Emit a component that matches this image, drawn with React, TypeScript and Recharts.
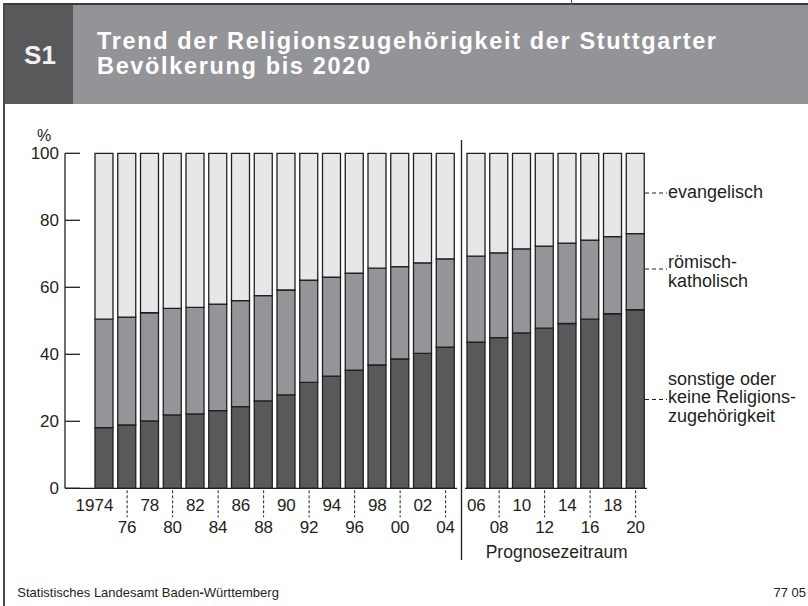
import { BarChart, Bar, XAxis, YAxis } from 'recharts'

const YEARS = [1974, 1976, 1978, 1980, 1982, 1984, 1986, 1988, 1990, 1992, 1994, 1996, 1998, 2000, 2002, 2004, 2006, 2008, 2010, 2012, 2014, 2016, 2018, 2020]
const TICK_LABELS = ['1974', '76', '78', '80', '82', '84', '86', '88', '90', '92', '94', '96', '98', '00', '02', '04', '06', '08', '10', '12', '14', '16', '18', '20']
const SONSTIGE = [18.1, 18.9, 20.1, 21.9, 22.2, 23.2, 24.4, 26.1, 27.9, 31.6, 33.5, 35.3, 36.8, 38.6, 40.3, 42.1, 43.6, 45.0, 46.4, 47.8, 49.2, 50.5, 52.1, 53.3]
const KATHOLISCH = [32.4, 32.2, 32.3, 31.8, 31.8, 31.8, 31.6, 31.4, 31.3, 30.5, 29.5, 28.9, 28.9, 27.6, 27.0, 26.4, 25.7, 25.3, 25.1, 24.5, 24.0, 23.6, 23.0, 22.7]
const EVANGELISCH = [49.5, 48.9, 47.6, 46.3, 46.0, 45.0, 44.0, 42.5, 40.8, 37.9, 37.0, 35.8, 34.3, 33.8, 32.7, 31.5, 30.7, 29.7, 28.5, 27.7, 26.8, 25.9, 24.9, 24.0]
const Y_TICKS = [0, 20, 40, 60, 80, 100]
const PROGNOSE_AB = 2006

const FONT = '"Liberation Sans", Arial, Helvetica, sans-serif'
const C_DARK = '#58595b'
const C_MID = '#939598'
const C_LIGHT = '#e6e7e8'
const C_LINE = '#231f20'

const rows = YEARS.map((year, i) => ({
  year,
  label: TICK_LABELS[i],
  sonstige: SONSTIGE[i],
  katholisch: KATHOLISCH[i],
  evangelisch: EVANGELISCH[i],
}))
const ist = rows.filter(r => r.year < PROGNOSE_AB)
const prognose = rows.filter(r => r.year >= PROGNOSE_AB)

const CHART_H = 420
const MARGIN = { top: 13.3, right: 0, left: 0, bottom: 11.7 }

function YearTick({ x, y, payload, index, alignFirst }: any) {
  const upper = index % 2 === 0
  const first = alignFirst && index === 0
  return (
    <g>
      {!upper && <line x1={x} x2={x} y1={y + 2} y2={y + 29} stroke={C_LINE} strokeWidth={1} strokeDasharray="3 2" />}
      <text
        x={first ? x + 9 : x}
        y={upper ? y + 22.5 : y + 45}
        textAnchor={first ? 'end' : 'middle'}
        fontFamily={FONT}
        fontSize={17}
        fill="#231f20"
      >
        {payload.value}
      </text>
    </g>
  )
}

function PctTick({ x, y, payload }: any) {
  return (
    <g>
      <line x1={x + 6} x2={x + 21} y1={y} y2={y} stroke={C_LINE} strokeWidth={1.3} />
      <text x={x} y={y + 6} textAnchor="end" fontFamily={FONT} fontSize={17} fill="#231f20">
        {payload.value}
      </text>
    </g>
  )
}

function Bars() {
  return [
    <Bar key="s" dataKey="sonstige" stackId="a" fill={C_DARK} stroke={C_LINE} strokeWidth={1.3} barSize={18} isAnimationActive={false} />,
    <Bar key="k" dataKey="katholisch" stackId="a" fill={C_MID} stroke={C_LINE} strokeWidth={1.3} barSize={18} isAnimationActive={false} />,
    <Bar key="e" dataKey="evangelisch" stackId="a" fill={C_LIGHT} stroke={C_LINE} strokeWidth={1.3} barSize={18} isAnimationActive={false} />,
  ]
}

export default function App() {
  return (
    <div style={{ position: 'absolute', left: 0, top: 0, width: 808, height: 606, background: '#fff', fontFamily: FONT, overflow: 'hidden' }}>
      {/* header */}
      <div style={{ position: 'absolute', left: 3, top: 3, width: 805, height: 2, background: '#3a3a3c' }} />
      <div style={{ position: 'absolute', left: 3, top: 3, width: 2, height: 603, background: '#4a4a4c' }} />
      <div style={{ position: 'absolute', left: 571, top: 0, width: 1, height: 5, background: '#555' }} />
      <div style={{ position: 'absolute', left: 5, top: 5, width: 68, height: 99, background: '#58595b' }} />
      <div style={{ position: 'absolute', left: 73, top: 5, width: 735, height: 99, background: '#939497' }} />

      <div style={{ position: 'absolute', left: 0, top: 140 }}>
        <BarChart width={457} height={CHART_H} data={ist} margin={MARGIN} barCategoryGap={0}>
          <YAxis
            width={65}
            domain={[0, 100]}
            ticks={Y_TICKS}
            interval={0}
            tickSize={0}
            tickMargin={6}
            tickLine={false}
            axisLine={{ stroke: C_LINE, strokeWidth: 1.3 }}
            tick={(p: any) => <PctTick {...p} />}
          />
          <XAxis
            dataKey="label"
            height={60}
            interval={0}
            tickSize={0}
            tickMargin={0}
            tickLine={false}
            padding={{ left: 28, right: 0 }}
            axisLine={{ stroke: C_LINE, strokeWidth: 1.3 }}
            tick={(p: any) => <YearTick {...p} alignFirst />}
          />
          {Bars()}
        </BarChart>
      </div>

      <div style={{ position: 'absolute', left: 464.8, top: 140 }}>
        <BarChart width={182} height={CHART_H} data={prognose} margin={MARGIN} barCategoryGap={0}>
          <YAxis hide width={0} domain={[0, 100]} />
          <XAxis
            dataKey="label"
            height={60}
            interval={0}
            tickSize={0}
            tickMargin={0}
            tickLine={false}
            axisLine={{ stroke: C_LINE, strokeWidth: 1.3 }}
            tick={(p: any) => <YearTick {...p} />}
          />
          {Bars()}
        </BarChart>
      </div>

      <svg width={808} height={606} style={{ position: 'absolute', left: 0, top: 0, pointerEvents: 'none' }}>
        <text x={40} y={64} textAnchor="middle" fontFamily={FONT} fontWeight="bold" fontSize={26} fill="#f2f2f2">S1</text>
        <text x={97} y={48.5} fontFamily={FONT} fontWeight="bold" fontSize={23.5} fill="#fff" textLength={619} lengthAdjust="spacing">
          Trend der Religionszugehörigkeit der Stuttgarter
        </text>
        <text x={97} y={74} fontFamily={FONT} fontWeight="bold" fontSize={23.5} fill="#fff" textLength={273} lengthAdjust="spacing">
          Bevölkerung bis 2020
        </text>

        <text x={44} y={141} textAnchor="middle" fontFamily={FONT} fontSize={16} fill="#231f20">%</text>

        <line x1={461.5} x2={461.5} y1={140} y2={560} stroke={C_LINE} strokeWidth={1.3} />
        <text x={556.7} y={558} textAnchor="middle" fontFamily={FONT} fontSize={17.5} fill="#231f20">Prognosezeitraum</text>

        <g fontFamily={FONT} fontSize={18} fill="#231f20">
          <line x1={645} x2={667} y1={193} y2={193} stroke={C_LINE} strokeWidth={1} strokeDasharray="4 3" />
          <text x={668} y={198.3}>evangelisch</text>
          <line x1={645} x2={667} y1={269} y2={269} stroke={C_LINE} strokeWidth={1} strokeDasharray="4 3" />
          <text x={668} y={268.3}>römisch-</text>
          <text x={668} y={286.7}>katholisch</text>
          <line x1={645} x2={667} y1={399.5} y2={399.5} stroke={C_LINE} strokeWidth={1} strokeDasharray="4 3" />
          <text x={668} y={385}>sonstige oder</text>
          <text x={668} y={403.3}>keine Religions-</text>
          <text x={668} y={421.7}>zugehörigkeit</text>
        </g>

        <text x={17.3} y={597.3} fontFamily={FONT} fontSize={13} fill="#231f20">
          Statistisches Landesamt Baden<tspan fontWeight="bold">-</tspan>Württemberg
        </text>
        <text x={806} y={597.3} textAnchor="end" fontFamily={FONT} fontSize={13} fill="#231f20">77 05</text>
      </svg>
    </div>
  )
}
